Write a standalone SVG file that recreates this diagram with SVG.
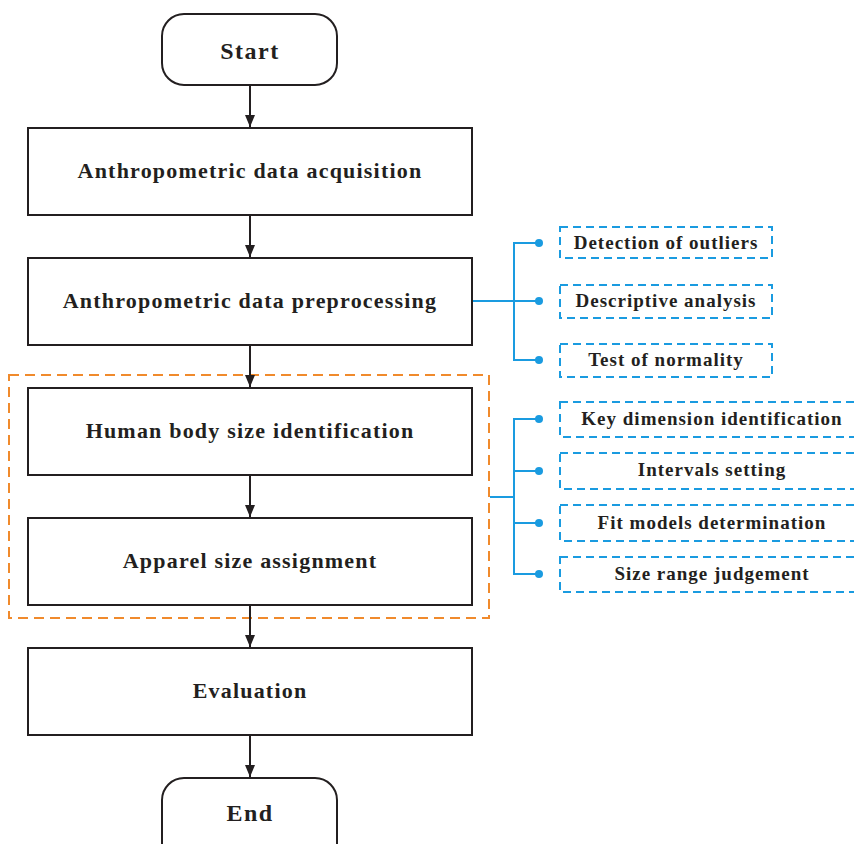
<svg xmlns="http://www.w3.org/2000/svg" width="854" height="844" viewBox="0 0 854 844">
<style>
.node{fill:#fff;stroke:#231f20;stroke-width:2}
.t{font-family:"Liberation Serif","Times New Roman",serif;font-weight:bold;fill:#231f20;text-anchor:middle}
.main{font-size:22px;letter-spacing:1.2px}
.term{font-size:24px;letter-spacing:1.5px}
.sub{font-size:19px;letter-spacing:1px}
.sbox{fill:none;stroke:#1a9be0;stroke-width:2;stroke-dasharray:8 5}
.blue{fill:none;stroke:#1a9be0;stroke-width:2}
.dot{fill:#1a9be0}
.arr{stroke:#231f20;stroke-width:2;fill:none}
</style>
<defs>
<marker id="ah" markerWidth="12" markerHeight="10" refX="12" refY="5" orient="auto" markerUnits="userSpaceOnUse" viewBox="0 0 12 10">
<path d="M0,0 L12,5 L0,10 Z" fill="#231f20"/>
</marker>
</defs>
<rect x="0" y="0" width="854" height="844" fill="#fff"/>
<g id="group-box">
<rect x="9" y="375" width="480" height="243" fill="none" stroke="#f08a2c" stroke-width="2" stroke-dasharray="10 6"/>
</g>
<g id="connectors">
<line class="arr" x1="250" y1="86" x2="250" y2="127" marker-end="url(#ah)"/>
<line class="arr" x1="250" y1="216" x2="250" y2="257" marker-end="url(#ah)"/>
<line class="arr" x1="250" y1="346" x2="250" y2="387" marker-end="url(#ah)"/>
<line class="arr" x1="250" y1="476" x2="250" y2="517" marker-end="url(#ah)"/>
<line class="arr" x1="250" y1="606" x2="250" y2="647" marker-end="url(#ah)"/>
<line class="arr" x1="250" y1="736" x2="250" y2="777" marker-end="url(#ah)"/>
<path class="blue" d="M472,301 H514 M539,243 H514 V360 H539 M514,301 H539"/>
<circle class="dot" cx="539" cy="243" r="4"/>
<circle class="dot" cx="539" cy="301" r="4"/>
<circle class="dot" cx="539" cy="360" r="4"/>
<path class="blue" d="M490,497 H514 M539,419 H514 V574 H539 M514,471 H539 M514,523 H539"/>
<circle class="dot" cx="539" cy="419" r="4"/>
<circle class="dot" cx="539" cy="471" r="4"/>
<circle class="dot" cx="539" cy="523" r="4"/>
<circle class="dot" cx="539" cy="574" r="4"/>
</g>
<g id="start">
<rect class="node" x="162" y="14" width="175" height="71" rx="22"/>
<text class="t term" x="250" y="59">Start</text>
</g>
<g id="acquisition">
<rect class="node" x="28" y="128" width="444" height="87"/>
<text class="t main" x="250" y="178">Anthropometric data acquisition</text>
</g>
<g id="preprocessing">
<rect class="node" x="28" y="258" width="444" height="87"/>
<text class="t main" x="250" y="308">Anthropometric data preprocessing</text>
</g>
<g id="identification">
<rect class="node" x="28" y="388" width="444" height="87"/>
<text class="t main" x="250" y="438">Human body size identification</text>
</g>
<g id="assignment">
<rect class="node" x="28" y="518" width="444" height="87"/>
<text class="t main" x="250" y="568">Apparel size assignment</text>
</g>
<g id="evaluation">
<rect class="node" x="28" y="648" width="444" height="87"/>
<text class="t main" x="250" y="698">Evaluation</text>
</g>
<g id="end">
<rect class="node" x="162" y="778" width="175" height="90" rx="22"/>
<text class="t term" x="250" y="821">End</text>
</g>
<g id="outliers">
<rect class="sbox" x="560" y="227" width="212" height="31"/>
<text class="t sub" x="666" y="249">Detection of outliers</text>
</g>
<g id="descriptive">
<rect class="sbox" x="560" y="285" width="212" height="33"/>
<text class="t sub" x="666" y="307">Descriptive analysis</text>
</g>
<g id="normality">
<rect class="sbox" x="560" y="344" width="212" height="33"/>
<text class="t sub" x="666" y="366">Test of normality</text>
</g>
<g id="key-dimension">
<rect class="sbox" x="560" y="402" width="300" height="35"/>
<text class="t sub" x="712" y="425">Key dimension identification</text>
</g>
<g id="intervals">
<rect class="sbox" x="560" y="453" width="300" height="36"/>
<text class="t sub" x="712" y="476">Intervals setting</text>
</g>
<g id="fit-models">
<rect class="sbox" x="560" y="505" width="300" height="36"/>
<text class="t sub" x="712" y="529">Fit models determination</text>
</g>
<g id="size-range">
<rect class="sbox" x="560" y="557" width="300" height="35"/>
<text class="t sub" x="712" y="580">Size range judgement</text>
</g>
</svg>
